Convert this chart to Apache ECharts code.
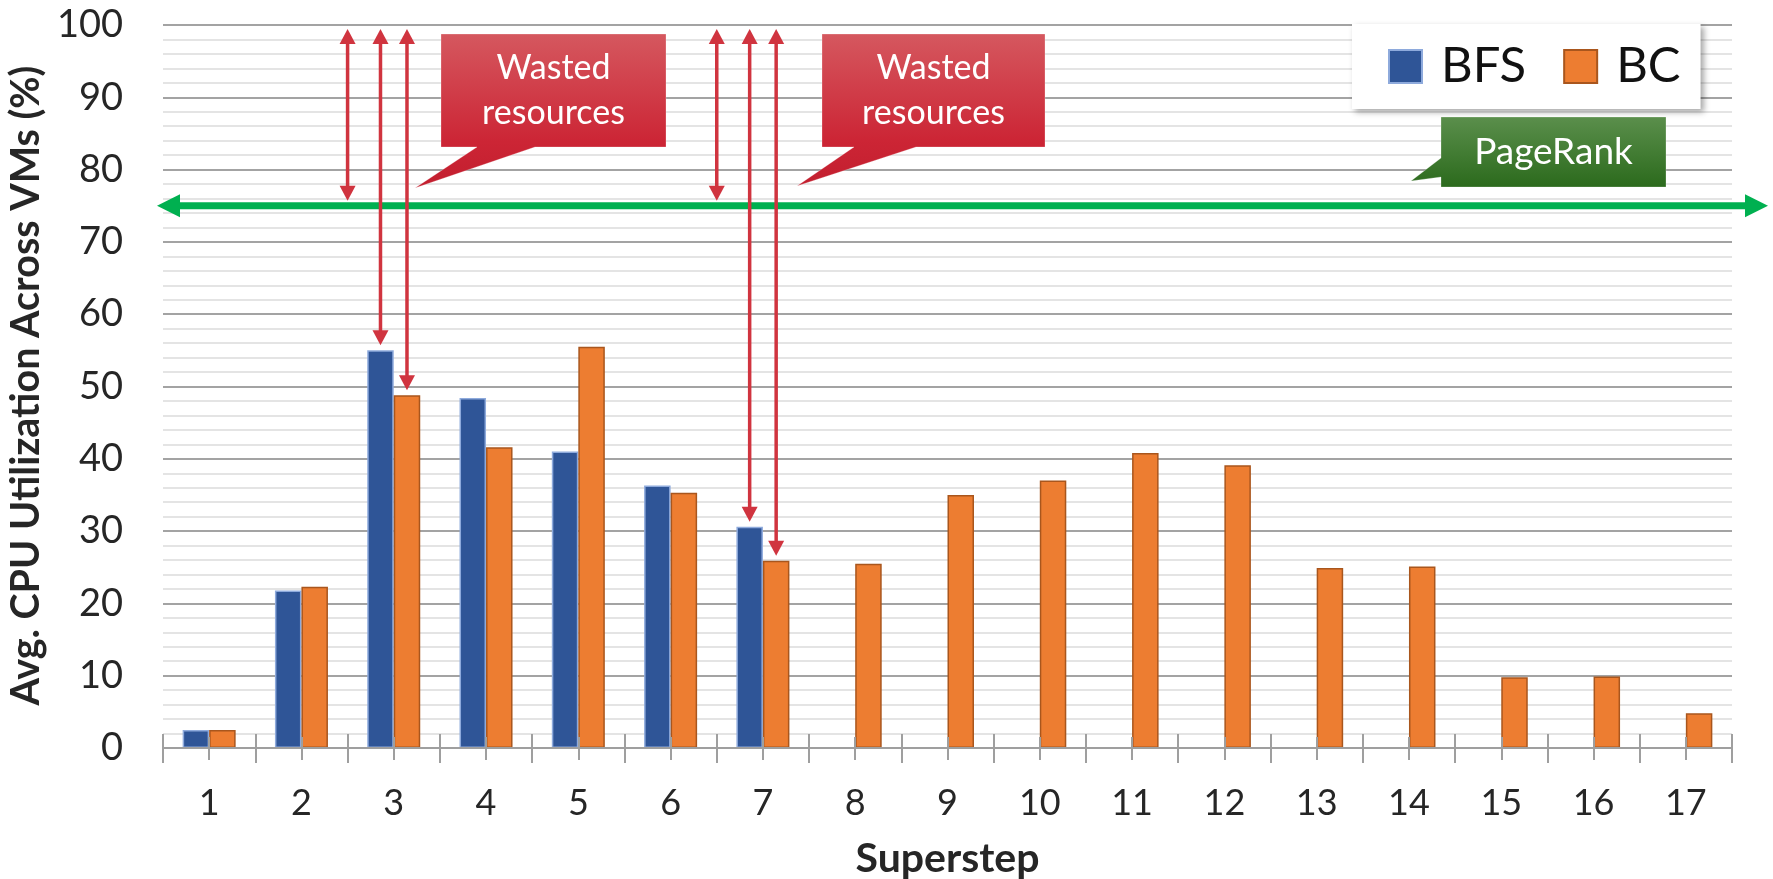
<!DOCTYPE html>
<html>
<head>
<meta charset="utf-8">
<script src="https://cdn.jsdelivr.net/npm/echarts@6/dist/echarts.min.js"></script>
<style>
  html, body { margin: 0; padding: 0; background: #ffffff; }
  #chart { width: 1773px; height: 879px; }
</style>
</head>
<body>
<div id="chart"></div>
<script>
// ---- data -------------------------------------------------------------
const supersteps = ['1', '2', '3', '4', '5', '6', '7', '8', '9', '10', '11', '12', '13', '14', '15', '16', '17'];

// Average CPU utilization across VMs (%) for each superstep
const bfsUtil = [2.5, 21.8, 55.0, 48.4, 41.0, 36.3, 30.6, null, null, null, null, null, null, null, null, null, null];
const bcUtil  = [2.5, 22.3, 48.8, 41.6, 55.5, 35.3, 25.9, 25.5, 35.0, 37.0, 40.8, 39.1, 24.9, 25.1, 9.8, 9.9, 4.8];

// PageRank holds a steady utilization over every superstep
const pageRankUtil = 75;

// Value axis
const yMin = 0, yMax = 100, yStep = 10;

// Supersteps (0-based) where the unused capacity is marked
const wasteSteps = [2, 6];

// Callout texts
const wasteLabel = 'Wasted\nresources';
const pageRankLabel = 'PageRank';

// ---- styling ------------------------------------------------------------
const BLUE = '#2f5597', BLUE_EDGE = '#8eaadc';
const ORANGE = '#ed7d31', ORANGE_EDGE = '#a9561d';
const RED = '#d0343f', GREEN = '#00b050';
const BAR_W = 26.5;
const FONT = 'Lato, "Open Sans", sans-serif';

// Build the wasted-capacity markers from the series themselves:
// [category, anchor (0 = group edge, 1 = BFS bar, 2 = BC bar), low, high]
const wasteMarks = [];
wasteSteps.forEach(function (i) {
  wasteMarks.push([i, 0, pageRankUtil, yMax]);
  wasteMarks.push([i, 1, bfsUtil[i], yMax]);
  wasteMarks.push([i, 2, bcUtil[i], yMax]);
});

function renderWaste(params, api) {
  const idx = api.value(0), anchor = api.value(1), lo = api.value(2), hi = api.value(3);
  const band = api.size([1, 0])[0];
  const pLo = api.coord([idx, lo]);
  const pHi = api.coord([idx, hi]);
  let x = pLo[0];
  if (anchor === 0) x -= band / 2;
  else if (anchor === 1) x -= BAR_W / 2;
  else x += BAR_W / 2;
  const top = pHi[1] + 4, bottom = pLo[1] - 5;
  const head = 15, half = 8;
  return {
    type: 'group',
    children: [
      { type: 'line', shape: { x1: x, y1: top + head - 2, x2: x, y2: bottom - head + 2 },
        style: { stroke: RED, lineWidth: 3.5 } },
      { type: 'polygon', shape: { points: [[x, top], [x - half, top + head], [x + half, top + head]] },
        style: { fill: RED } },
      { type: 'polygon', shape: { points: [[x, bottom], [x - half, bottom - head], [x + half, bottom - head]] },
        style: { fill: RED } }
    ]
  };
}

function renderPageRank(params, api) {
  const cs = params.coordSys;
  const y = api.coord([0, api.value(0)])[1];
  const xl = cs.x - 6, xr = cs.x + cs.width + 36;
  const head = 23, half = 11.5;
  return {
    type: 'group',
    children: [
      { type: 'line', shape: { x1: xl + head - 2, y1: y, x2: xr - head + 2, y2: y },
        style: { stroke: GREEN, lineWidth: 7 } },
      { type: 'polygon', shape: { points: [[xl, y], [xl + head, y - half], [xl + head, y + half]] },
        style: { fill: GREEN } },
      { type: 'polygon', shape: { points: [[xr, y], [xr - head, y - half], [xr - head, y + half]] },
        style: { fill: GREEN } }
    ]
  };
}

// Callout bubble: rectangle with a pointer tail
function callout(box, tail, colors, text, fontSize, lineHeight) {
  const [x0, y0, x1, y1] = box;
  return [
    {
      type: 'polygon',
      z: 20,
      shape: { points: [[x0, y0], [x1, y0], [x1, y1]].concat(tail.bottom ? [
        [tail.b2, y1], tail.tip, [tail.b1, y1], [x0, y1]
      ] : [
        [x0, y1], [x0, tail.b2], tail.tip, [x0, tail.b1]
      ]) },
      style: {
        fill: new echarts.graphic.LinearGradient(0, 0, 0, 1, colors),
        stroke: 'rgba(255,255,255,0.25)', lineWidth: 1
      }
    },
    {
      type: 'text',
      z: 21,
      x: (x0 + x1) / 2,
      y: (y0 + y1) / 2,
      style: {
        text: text, fill: '#ffffff', font: 'normal ' + fontSize + 'px ' + FONT,
        align: 'center', verticalAlign: 'middle', lineHeight: lineHeight
      }
    }
  ];
}

const redStops = [
  { offset: 0, color: '#d5585f' }, { offset: 0.7, color: '#cc2535' }, { offset: 1, color: '#c21e2e' }
];
const greenStops = [
  { offset: 0, color: '#5b8f4c' }, { offset: 1, color: '#2b6a1c' }
];

const graphics = []
  .concat(callout([441, 34, 666, 147], { bottom: true, b1: 477, b2: 535, tip: [415, 188] }, redStops, wasteLabel, 34, 45))
  .concat(callout([822, 34, 1045, 147], { bottom: true, b1: 854, b2: 916, tip: [797, 186] }, redStops, wasteLabel, 34, 45))
  .concat(callout([1441, 117, 1666, 187], { bottom: false, b1: 158, b2: 177, tip: [1411, 181] }, greenStops, pageRankLabel, 37, 40));

// Tick axes: boundary ticks and centre ticks, each crossing the baseline
function tickAxis(alignCenter, inside, len) {
  return {
    type: 'category', data: supersteps, position: 'bottom', gridIndex: 0, z: 3,
    axisLine: { show: false }, axisLabel: { show: false }, splitLine: { show: false },
    axisTick: { show: true, alignWithLabel: alignCenter, inside: inside, length: len,
      lineStyle: { color: '#9f9f9f', width: 2 } }
  };
}

const chart = echarts.init(document.getElementById('chart'), null, { renderer: 'canvas' });

chart.setOption({
  backgroundColor: '#ffffff',
  animation: false,
  textStyle: { fontFamily: FONT },
  grid: { left: 163, right: 41, top: 25, bottom: 131, containLabel: false, outerBoundsMode: 'none' },
  legend: {
    data: ['BFS', 'BC'],
    left: 1352, top: 24,
    orient: 'horizontal',
    backgroundColor: '#ffffff',
    shadowColor: 'rgba(0,0,0,0.35)', shadowBlur: 6, shadowOffsetX: 3, shadowOffsetY: 3,
    padding: [18, 20, 18, 36],
    itemWidth: 33, itemHeight: 33, itemGap: 37,
    icon: 'rect',
    textStyle: { fontFamily: FONT, fontSize: 49, color: '#111111', padding: [0, 0, 0, 14] },
    z: 15
  },
  xAxis: [
    {
      type: 'category', data: supersteps, position: 'bottom', z: 3,
      name: 'Superstep', nameLocation: 'middle', nameGap: 90,
      nameTextStyle: { fontFamily: FONT, fontSize: 41, fontWeight: 'bold', color: '#262626' },
      axisLine: { show: true, lineStyle: { color: '#9f9f9f', width: 2 } },
      axisTick: { show: true, alignWithLabel: false, length: 15, lineStyle: { color: '#9f9f9f', width: 2 } },
      axisLabel: { fontFamily: FONT, fontSize: 36, color: '#262626', margin: 37 },
      splitLine: { show: false }
    },
    tickAxis(false, true, 14),
    tickAxis(true, false, 12),
    tickAxis(true, true, 11)
  ],
  yAxis: {
    type: 'value', min: yMin, max: yMax, interval: yStep,
    name: 'Avg. CPU Utilization Across VMs (%)', nameLocation: 'middle', nameRotate: 90, nameGap: 112,
    nameTextStyle: { fontFamily: FONT, fontSize: 39.5, fontWeight: 'bold', color: '#262626', padding: [0, 0, 0, 2] },
    axisLine: { show: false }, axisTick: { show: false },
    axisLabel: { fontFamily: FONT, fontSize: 38, color: '#262626', margin: 40 },
    splitLine: { show: true, lineStyle: { color: '#a3a3a3', width: 2 } },
    minorTick: { show: false, splitNumber: 5 },
    minorSplitLine: { show: true, lineStyle: { color: '#dcdcdc', width: 1.5 } }
  },
  series: [
    {
      name: 'BFS', type: 'bar', data: bfsUtil, barWidth: BAR_W, barGap: '0%',
      itemStyle: { color: BLUE, borderColor: BLUE_EDGE, borderWidth: 1.5 }
    },
    {
      name: 'BC', type: 'bar', data: bcUtil, barWidth: BAR_W, barGap: '0%',
      itemStyle: { color: ORANGE, borderColor: ORANGE_EDGE, borderWidth: 1.5 }
    },
    {
      name: 'PageRank level', type: 'custom', data: [[pageRankUtil]],
      encode: { y: 0 }, renderItem: renderPageRank, clip: false, z: 8, silent: true
    },
    {
      name: 'Wasted capacity', type: 'custom', data: wasteMarks,
      dimensions: ['step', 'anchor', 'low', 'high'],
      encode: { x: 0, y: [2, 3] }, renderItem: renderWaste, clip: false, z: 9, silent: true
    }
  ],
  graphic: graphics
});
</script>
</body>
</html>
